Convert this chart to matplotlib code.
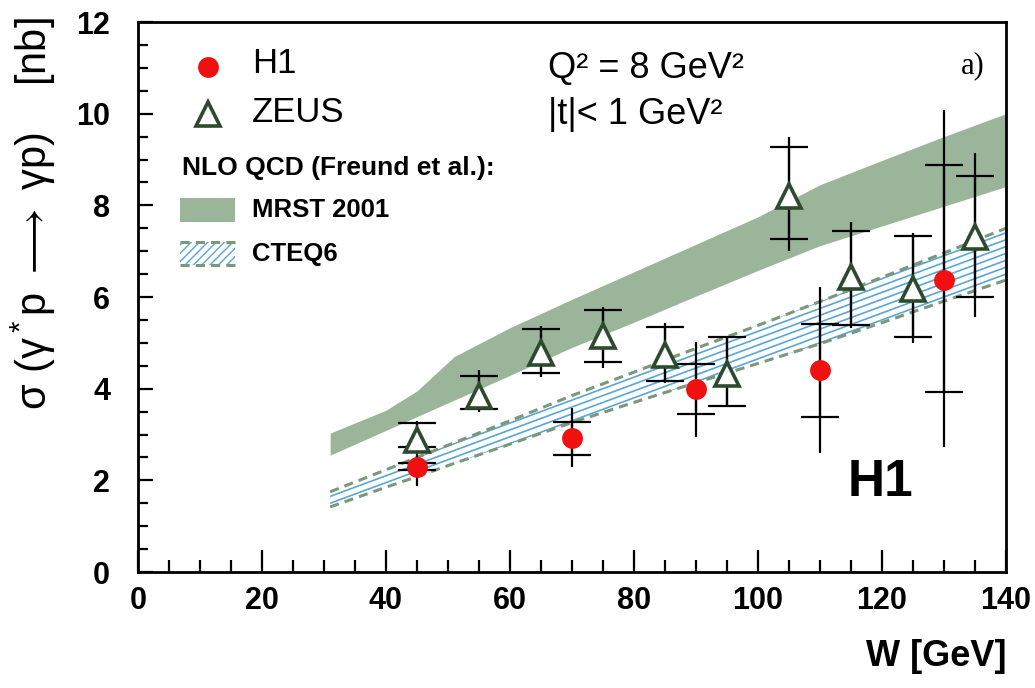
import numpy as np
import matplotlib
matplotlib.use('Agg')
import matplotlib.pyplot as plt
from matplotlib.patches import Polygon, Rectangle
from matplotlib.lines import Line2D
from matplotlib.ticker import MultipleLocator

plt.rcParams['font.family'] = ['Liberation Sans', 'DejaVu Sans']
plt.rcParams['mathtext.fontset'] = 'custom'
plt.rcParams['mathtext.rm'] = 'Liberation Sans'
plt.rcParams['mathtext.it'] = 'Liberation Sans'
plt.rcParams['mathtext.fallback'] = 'stixsans'

# H1: W [GeV], sigma [nb], inner (stat) and outer (total) error limits
h1_w = [45, 70, 90, 110, 130]
h1_sigma = [2.30, 2.93, 4.00, 4.41, 6.38]
h1_stat_lo = [2.22, 2.55, 3.44, 3.39, 3.93]
h1_stat_hi = [2.38, 3.27, 4.53, 5.41, 8.87]
h1_tot_lo = [1.88, 2.30, 2.95, 2.60, 2.73]
h1_tot_hi = [2.72, 3.57, 5.01, 6.21, 10.08]

# ZEUS
zeus_w = [45, 55, 65, 75, 85, 95, 105, 115, 125, 135]
zeus_sigma = [2.88, 3.85, 4.77, 5.15, 4.74, 4.32, 8.21, 6.44, 6.18, 7.31]
zeus_stat_lo = [2.72, 3.56, 4.35, 4.59, 4.17, 3.62, 7.26, 5.40, 5.12, 6.01]
zeus_stat_hi = [3.26, 4.28, 5.30, 5.72, 5.35, 5.13, 9.28, 7.44, 7.33, 8.63]
zeus_tot_lo = [2.66, 3.50, 4.25, 4.45, 4.12, 3.60, 7.01, 5.32, 4.99, 5.57]
zeus_tot_hi = [3.30, 4.41, 5.37, 5.79, 5.43, 5.16, 9.49, 7.64, 7.40, 9.14]

# NLO QCD bands (Freund et al.)
band_w = [31, 40, 45, 51, 60, 70, 80, 90, 100, 110, 120, 130, 140]
mrst_lo = [2.55, 3.09, 3.39, 3.75, 4.29, 4.90, 5.45, 6.02, 6.58, 7.12, 7.55, 7.98, 8.41]
mrst_hi = [3.03, 3.53, 3.95, 4.70, 5.33, 5.95, 6.55, 7.15, 7.75, 8.45, 8.98, 9.50, 10.00]
cteq_lo = [1.42, 1.85, 2.08, 2.37, 2.79, 3.26, 3.70, 4.13, 4.55, 4.98, 5.44, 5.91, 6.37]
cteq_hi = [1.75, 2.23, 2.50, 2.82, 3.30, 3.85, 4.36, 4.88, 5.38, 5.90, 6.43, 6.96, 7.50]

mrst_color = '#9bb59b'
cteq_edge = '#7a987a'
cteq_hatch = '#5aa6d6'
zeus_color = '#2e4a2e'
h1_color = '#f01010'


def draw_errors(ax, w, y, lo, hi, cap):
    y = np.asarray(y)
    yerr = [y - np.asarray(lo), np.asarray(hi) - y]
    ax.errorbar(w, y, yerr=yerr, fmt='none', ecolor='black', elinewidth=1.6,
                capsize=cap, capthick=1.6, zorder=4)


fig = plt.figure(figsize=(10.35, 6.88), dpi=100)
ax = fig.add_axes([0.1333, 0.1686, 0.8386, 0.7994])

# MRST 2001 band
ax.fill_between(band_w, mrst_lo, mrst_hi, color=mrst_color, linewidth=0, zorder=1)

# CTEQ6 band: hatched interior with dashed edges
verts = np.column_stack([np.concatenate([band_w, band_w[::-1]]),
                         np.concatenate([cteq_lo, cteq_hi[::-1]])])
cteq_poly = Polygon(verts, closed=True, facecolor='none', edgecolor='none')
ax.add_patch(cteq_poly)
ww = np.array([band_w[0], band_w[-1]])
for c in np.arange(-2.0, 2.5, 0.15):
    hl, = ax.plot(ww, c + 0.05 * ww, color=cteq_hatch, lw=1.2, zorder=2)
    hl.set_clip_path(cteq_poly)
ax.plot(band_w, cteq_lo, color=cteq_edge, lw=2.2, dashes=(3, 2), zorder=2)
ax.plot(band_w, cteq_hi, color=cteq_edge, lw=2.2, dashes=(3, 2), zorder=2)

# data points
draw_errors(ax, zeus_w, zeus_sigma, zeus_tot_lo, zeus_tot_hi, 0)
draw_errors(ax, zeus_w, zeus_sigma, zeus_stat_lo, zeus_stat_hi, 14)
draw_errors(ax, h1_w, h1_sigma, h1_tot_lo, h1_tot_hi, 0)
draw_errors(ax, h1_w, h1_sigma, h1_stat_lo, h1_stat_hi, 14)
ax.plot(zeus_w, zeus_sigma, '^', ms=17, mfc='white', mec=zeus_color, mew=2.6,
        zorder=5)
ax.plot(h1_w, h1_sigma, 'o', ms=15, color=h1_color, mec='none', zorder=6)

ax.set_xlim(0, 140)
ax.set_ylim(0, 12)
ax.xaxis.set_major_locator(MultipleLocator(20))
ax.xaxis.set_minor_locator(MultipleLocator(5))
ax.yaxis.set_major_locator(MultipleLocator(2))
ax.yaxis.set_minor_locator(MultipleLocator(0.5))
ax.tick_params(axis='x', which='major', direction='in', length=16, width=1.6,
               pad=10, labelsize=22)
ax.tick_params(axis='x', which='minor', direction='in', length=9, width=1.6)
ax.tick_params(axis='y', which='major', direction='in', length=11, width=1.6,
               pad=20, labelsize=22)
ax.tick_params(axis='y', which='minor', direction='in', length=7, width=1.6)
for lab in ax.get_xticklabels() + ax.get_yticklabels():
    lab.set_fontweight('bold')
for sp in ax.spines.values():
    sp.set_linewidth(2.0)

# axis titles
fig.text(33 / 1035, 1 - 214 / 688, r'σ (γ$^*$p $\longrightarrow$ γp)    [nb]',
         rotation=90, ha='center', va='center', fontsize=30)
fig.text(1006 / 1035, 1 - 657 / 688, 'W [GeV]', ha='right', va='center',
         fontsize=26, fontweight='bold')

# legend
tr = ax.transAxes
ax.plot([0.0806], [0.918], 'o', ms=15, color=h1_color, mec='none',
        transform=tr, clip_on=False)
ax.text(0.131, 0.924, 'H1', transform=tr, ha='left', va='center', fontsize=25)
ax.plot([0.0806], [0.833], '^', ms=17, mfc='white', mec=zeus_color, mew=2.6,
        transform=tr, clip_on=False)
ax.text(0.131, 0.836, 'ZEUS', transform=tr, ha='left', va='center', fontsize=25)
ax.text(0.0507, 0.7345, 'NLO QCD (Freund et al.):', transform=tr, ha='left',
        va='center', fontsize=19, fontweight='bold')
ax.add_patch(Rectangle((0.0484, 0.636), 0.0634, 0.044, transform=tr,
                       facecolor=mrst_color, edgecolor='none'))
ax.text(0.131, 0.658, 'MRST 2001', transform=tr, ha='left', va='center',
        fontsize=18.5, fontweight='bold')
ax.add_patch(Rectangle((0.0484, 0.558), 0.0634, 0.042, transform=tr,
                       facecolor='none', edgecolor=cteq_hatch, hatch='////',
                       linewidth=0))
for yy in (0.558, 0.600):
    ax.add_line(Line2D([0.0484, 0.1118], [yy, yy], transform=tr,
                       color=cteq_edge, lw=2.2, dashes=(3, 2)))
ax.text(0.131, 0.578, 'CTEQ6', transform=tr, ha='left', va='center',
        fontsize=18.5, fontweight='bold')

# kinematic range and labels
ax.text(0.472, 0.916, 'Q² = 8 GeV²', transform=tr, ha='left', va='center',
        fontsize=26)
ax.text(0.472, 0.831, '|t|< 1 GeV²', transform=tr, ha='left', va='center',
        fontsize=26)
ax.text(0.962, 0.92, 'a)', transform=tr, ha='center', va='center',
        fontsize=22, family='Liberation Serif')
ax.text(0.855, 0.162, 'H1', transform=tr, ha='center', va='center',
        fontsize=37, fontweight='bold')

fig.savefig('out.png', dpi=100)
